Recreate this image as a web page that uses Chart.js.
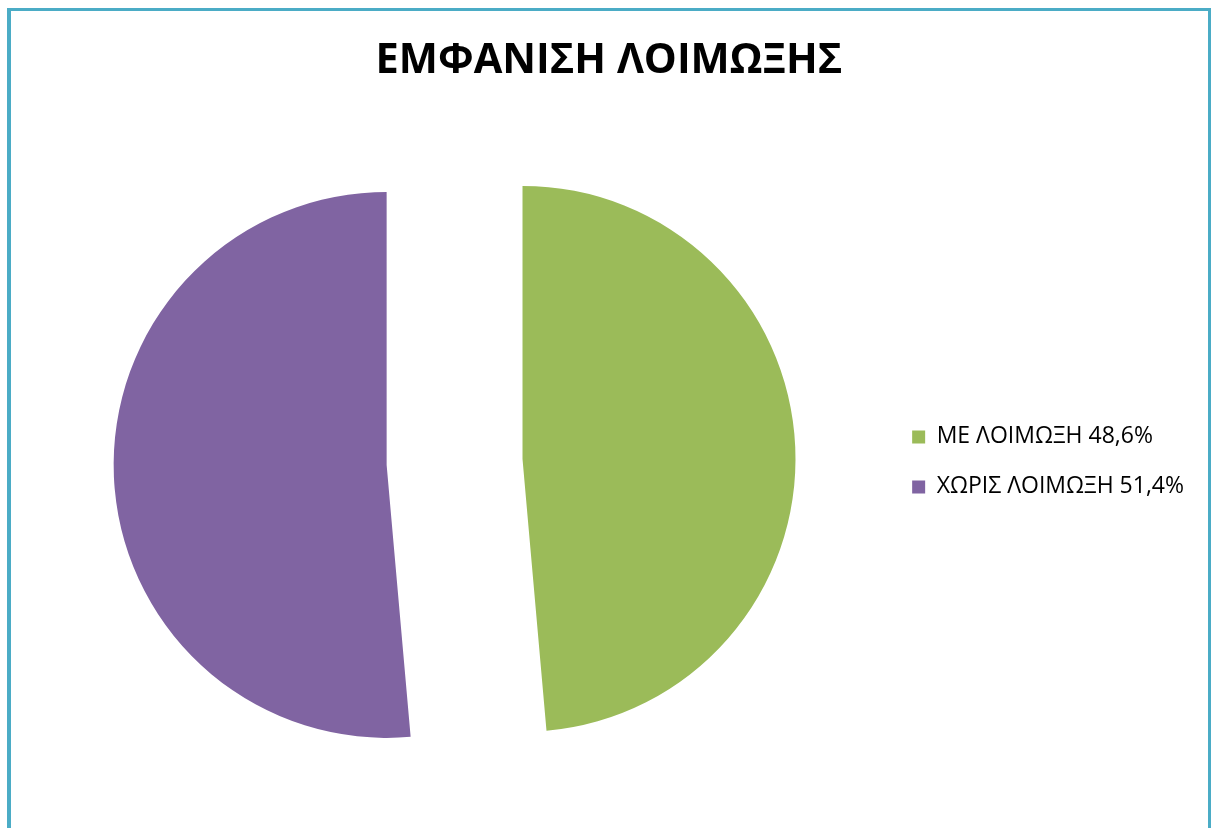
<!DOCTYPE html>
<html>
<head>
<meta charset="utf-8">
<script src="https://cdn.jsdelivr.net/npm/chart.js@4/dist/chart.umd.min.js"></script>
<style>
  html, body { margin: 0; padding: 0; background: #ffffff; }
  body { width: 1212px; height: 828px; overflow: hidden; position: relative; }
  #frame {
    position: absolute; left: 7px; top: 8px; width: 1197px; height: 900px;
    border-left: 4px solid #4BACC6; border-top: 3px solid #4BACC6; border-right: 3px solid #4BACC6;
  }
  #wrap { position: absolute; left: 0; top: 0; width: 1212px; height: 828px; }
</style>
</head>
<body>
<div id="frame"></div>
<div id="wrap"><canvas id="chart" width="1212" height="828"></canvas></div>
<script>
// Infection occurrence, share of patients (%)
const categories = ['ΜΕ ΛΟΙΜΩΞΗ', 'ΧΩΡΙΣ ΛΟΙΜΩΞΗ'];
const shares = [48.6, 51.4];
const sliceColors = ['#9BBB59', '#8064A2'];
const chartTitle = 'ΕΜΦΑΝΙΣΗ ΛΟΙΜΩΞΗΣ';

const legendLabels = categories.map((c, i) => c + ' ' + shares[i].toFixed(1).replace('.', ',') + '%');

// Pulls every slice out from the centre along its own bisector,
// keeping the slice edges radial (an "exploded" pie).
const explodeSlices = {
  id: 'explodeSlices',
  beforeDatasetDraw(chart, args, opts) {
    const ctx = chart.ctx;
    const dist = opts.distance || 0;
    args.meta.data.forEach(arc => {
      const mid = (arc.startAngle + arc.endAngle) / 2;
      ctx.save();
      ctx.translate(Math.cos(mid) * dist, Math.sin(mid) * dist);
      arc.draw(ctx, chart.chartArea);
      ctx.restore();
    });
    return false;
  }
};

new Chart(document.getElementById('chart'), {
  type: 'pie',
  data: {
    labels: legendLabels,
    datasets: [{
      data: shares,
      backgroundColor: sliceColors,
      borderWidth: 0,
      hoverOffset: 0
    }]
  },
  options: {
    responsive: false,
    animation: false,
    radius: 273,
    layout: { padding: { left: 24, right: 18, top: 0, bottom: 59 } },
    plugins: {
      tooltip: { enabled: false },
      explodeSlices: { distance: 68 },
      title: {
        display: true,
        text: chartTitle,
        color: '#000000',
        font: { family: 'Open Sans', size: 41.5, weight: 'bold' },
        padding: { top: 36, bottom: 69 }
      },
      legend: {
        position: 'right',
        fullSize: false,
        labels: {
          color: '#000000',
          font: { family: 'Open Sans', size: 23 },
          boxWidth: 13,
          boxHeight: 13,
          padding: 27
        }
      }
    }
  },
  plugins: [explodeSlices]
});
</script>
</body>
</html>
